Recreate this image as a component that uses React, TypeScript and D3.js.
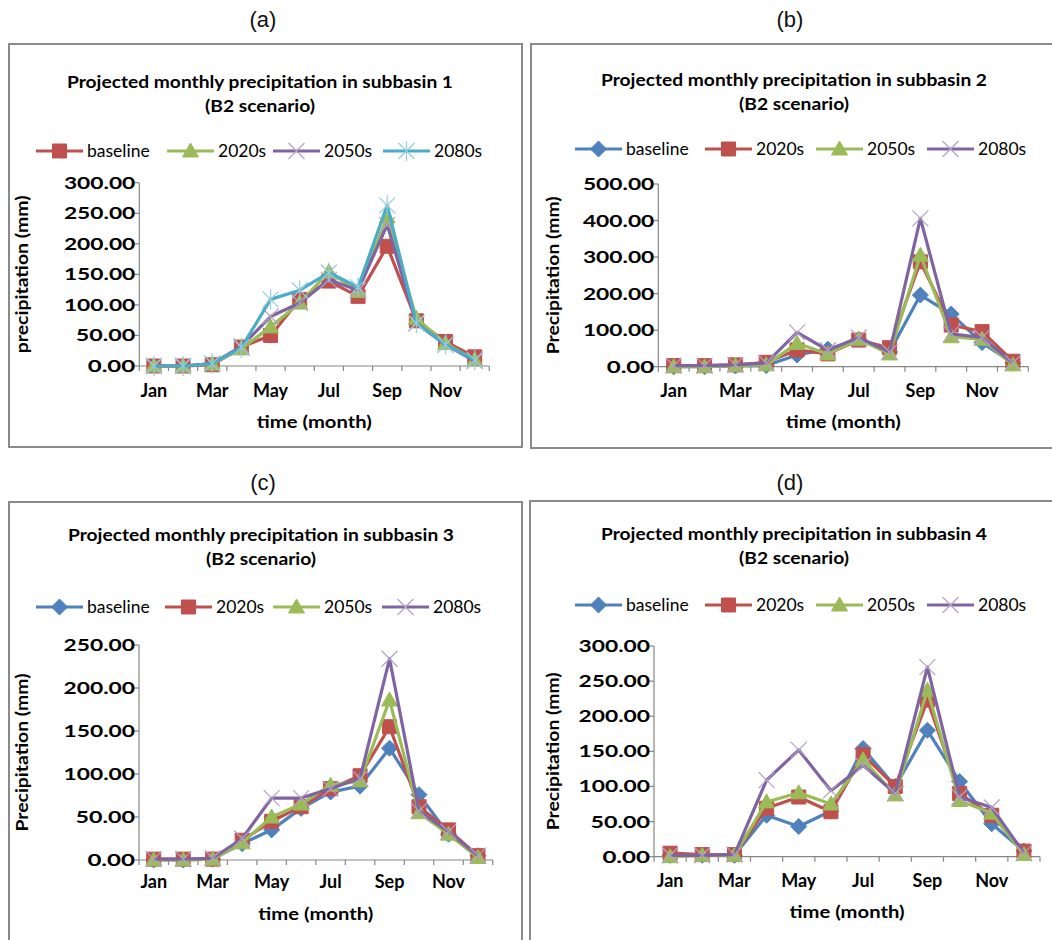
import React from 'react';
import * as d3 from 'd3';

const months = ['Jan', 'Feb', 'Mar', 'Apr', 'May', 'Jun', 'Jul', 'Aug', 'Sep', 'Oct', 'Nov', 'Dec'];
const shownMonths = ['Jan', 'Mar', 'May', 'Jul', 'Sep', 'Nov'];
const seriesNames = ['baseline', '2020s', '2050s', '2080s'];

// Subbasin 1
const s1_baseline = [0, 0, 2, 31, 50, 109, 139, 114, 196, 74, 40, 15];
const s1_2020s = [0, 0, 3, 28, 64, 103, 154, 122, 244, 78, 37, 10];
const s1_2050s = [0, 0, 4, 32, 81, 103, 141, 124, 231, 70, 35, 8];
const s1_2080s = [0, 0, 4, 30, 109, 124, 153, 129, 263, 70, 35, 10];

// Subbasin 2
const s2_baseline = [0, 0, 2, 3, 32, 48, 75, 40, 196, 144, 66, 10];
const s2_2020s = [3, 3, 5, 12, 46, 35, 73, 52, 287, 114, 96, 15];
const s2_2050s = [0, 0, 3, 5, 64, 35, 75, 35, 305, 82, 75, 5];
const s2_2080s = [3, 3, 5, 10, 94, 45, 80, 40, 406, 90, 80, 10];

// Subbasin 3
const s3_baseline = [0, 0, 1, 19, 35, 60, 79, 86, 130, 76, 30, 5];
const s3_2020s = [1, 1, 1, 23, 45, 62, 83, 98, 155, 62, 35, 5];
const s3_2050s = [0, 0, 1, 20, 50, 65, 87, 92, 186, 55, 30, 3];
const s3_2080s = [1, 1, 2, 25, 72, 72, 83, 95, 234, 57, 33, 5];

// Subbasin 4
const s4_baseline = [2, 2, 2, 59, 43, 65, 154, 100, 180, 107, 47, 8];
const s4_2020s = [5, 3, 3, 69, 85, 64, 145, 100, 223, 90, 59, 8];
const s4_2050s = [0, 2, 2, 78, 91, 75, 138, 88, 237, 80, 62, 3];
const s4_2080s = [2, 2, 3, 109, 152, 94, 130, 90, 270, 85, 70, 5];

const yTicks1 = [0, 50, 100, 150, 200, 250, 300];
const yTicks2 = [0, 100, 200, 300, 400, 500];
const yTicks3 = [0, 50, 100, 150, 200, 250];
const yTicks4 = [0, 50, 100, 150, 200, 250, 300];

type Style = { color: string; marker: string; mColor: string };
const BLUE: Style = { color: '#4F81BD', marker: 'diamond', mColor: '#4F81BD' };
const RED: Style = { color: '#C0504D', marker: 'square', mColor: '#C0504D' };
const GREEN: Style = { color: '#9BBB59', marker: 'triangle', mColor: '#9BBB59' };
const PURPLE: Style = { color: '#8064A2', marker: 'times', mColor: '#B3A2C7' };
const CYAN: Style = { color: '#4BACC6', marker: 'asterisk', mColor: '#93CDDD' };

const FONT = 'Lato, "Open Sans", sans-serif';

function markerPath(kind: string): string {
  switch (kind) {
    case 'diamond':
      return 'M0,-8L8,0L0,8L-8,0Z';
    case 'square':
      return 'M-7,-7H7V7H-7Z';
    case 'triangle':
      return 'M0,-8L8,6H-8Z';
    case 'times':
      return 'M-8,-8L8,8M8,-8L-8,8';
    case 'asterisk':
      return 'M-8,-8L8,8M8,-8L-8,8M0,-10V10';
    default:
      return d3.symbol(d3.symbolCircle, 64)() || '';
  }
}

function Marker({ kind, color, x, y }: { kind: string; color: string; x: number; y: number }) {
  const stroked = kind === 'times' || kind === 'asterisk';
  return (
    <path
      d={markerPath(kind)}
      transform={`translate(${x},${y})`}
      fill={stroked ? 'none' : color}
      stroke={color}
      strokeWidth={stroked ? 1.2 : 1}
    />
  );
}

type PanelCfg = {
  label: string;
  labelX: number;
  labelY: number;
  box: [number, number, number, number];
  title1: string;
  titleX: number;
  titleY: number;
  legendY: number;
  legendX: number[];
  x0: number;
  x1: number;
  y0: number;
  yTop: number;
  yMax: number;
  ticks: number[];
  yTitle: string;
  yTitleX: number;
  xLabelY: number;
  xTitleY: number;
  series: number[][];
  styles: Style[];
};

function Panel({ cfg }: { cfg: PanelCfg }) {
  const x = d3.scaleBand<string>().domain(months).range([cfg.x0, cfg.x1]).padding(0);
  const y = d3.scaleLinear().domain([0, cfg.yMax]).range([cfg.y0, cfg.yTop]);
  const cx = (m: string) => (x(m) as number) + x.bandwidth() / 2;
  const line = d3
    .line<number>()
    .x((_, i) => cx(months[i]))
    .y((d) => y(d));
  const [bx, by, bw, bh] = cfg.box;
  const axisColor = '#868686';
  const boundaries = d3.range(months.length + 1).map((i) => cfg.x0 + i * x.bandwidth());
  const fmt = d3.format('.2f');
  return (
    <g>
      <text x={cfg.labelX} y={cfg.labelY} fontFamily='"Liberation Sans", Arial, sans-serif' fontSize={22} textAnchor="middle" fill="#111">
        {cfg.label}
      </text>
      <rect x={bx} y={by} width={bw} height={bh} fill="#fff" stroke="#8a8a8a" strokeWidth={2} />
      <text x={cfg.titleX} y={cfg.titleY} fontFamily={FONT} fontWeight="bold" fontSize={17.5} textAnchor="middle" fill="#000" textLength={386} lengthAdjust="spacingAndGlyphs">
        {cfg.title1}
      </text>
      <text x={cfg.titleX} y={cfg.titleY + 24} fontFamily={FONT} fontWeight="bold" fontSize={17.5} textAnchor="middle" fill="#000" textLength={110} lengthAdjust="spacingAndGlyphs">
        (B2 scenario)
      </text>
      {seriesNames.map((name, i) => {
        const lx = cfg.legendX[i];
        const st = cfg.styles[i];
        return (
          <g key={name}>
            <line x1={lx} x2={lx + 47} y1={cfg.legendY} y2={cfg.legendY} stroke={st.color} strokeWidth={3} />
            <Marker kind={st.marker} color={st.mColor} x={lx + 23.5} y={cfg.legendY} />
            <text x={lx + 51} y={cfg.legendY + 6} fontFamily={FONT} fontSize={17.5} fill="#000">
              {name}
            </text>
          </g>
        );
      })}
      {/* axes */}
      <line x1={cfg.x0} x2={cfg.x0} y1={cfg.yTop} y2={cfg.y0} stroke={axisColor} strokeWidth={1.2} />
      <line x1={cfg.x0} x2={cfg.x1} y1={cfg.y0} y2={cfg.y0} stroke={axisColor} strokeWidth={1.2} />
      {cfg.ticks.map((t) => {
        const s = fmt(t);
        return (
          <g key={t}>
            <line x1={cfg.x0 - 5} x2={cfg.x0} y1={y(t)} y2={y(t)} stroke={axisColor} strokeWidth={1.2} />
            <text x={cfg.x0 - 4} y={y(t) + 6} fontFamily={FONT} fontWeight="bold" fontSize={17.5} textAnchor="end" fill="#000" textLength={s.length * 11.9} lengthAdjust="spacingAndGlyphs">
              {s}
            </text>
          </g>
        );
      })}
      {boundaries.map((bxv, i) => (
        <line key={i} x1={bxv} x2={bxv} y1={cfg.y0} y2={cfg.y0 + 5} stroke={axisColor} strokeWidth={1.2} />
      ))}
      {shownMonths.map((m) => (
        <text key={m} x={cx(m)} y={cfg.xLabelY} fontFamily={FONT} fontWeight="bold" fontSize={18} textAnchor="middle" fill="#000">
          {m}
        </text>
      ))}
      <text x={(cfg.x0 + cfg.x1) / 2} y={cfg.xTitleY} fontFamily={FONT} fontWeight="bold" fontSize={17.5} textAnchor="middle" fill="#000" textLength={115} lengthAdjust="spacingAndGlyphs">
        time (month)
      </text>
      <text
        transform={`translate(${cfg.yTitleX},${(cfg.y0 + cfg.yTop) / 2}) rotate(-90)`}
        fontFamily={FONT}
        fontWeight="bold"
        fontSize={17}
        textAnchor="middle"
        fill="#000"
        textLength={158}
        lengthAdjust="spacingAndGlyphs"
      >
        {cfg.yTitle}
      </text>
      {/* series */}
      {cfg.series.map((vals, si) => {
        const st = cfg.styles[si];
        return (
          <g key={si}>
            <path d={line(vals) || ''} fill="none" stroke={st.color} strokeWidth={3.2} strokeLinejoin="round" />
            {vals.map((v, i) => (
              <Marker key={i} kind={st.marker} color={st.mColor} x={cx(months[i])} y={y(v)} />
            ))}
          </g>
        );
      })}
    </g>
  );
}

const panels: PanelCfg[] = [
  {
    label: '(a)', labelX: 263, labelY: 27,
    box: [9, 44, 513, 403],
    title1: 'Projected monthly precipitation in subbasin 1', titleX: 260, titleY: 88,
    legendY: 151, legendX: [36, 167, 273, 383],
    x0: 139.3, x1: 489.3, y0: 366, yTop: 182.7, yMax: 300, ticks: yTicks1,
    yTitle: 'precipitation (mm)', yTitleX: 28, xLabelY: 397, xTitleY: 428,
    series: [s1_baseline, s1_2020s, s1_2050s, s1_2080s],
    styles: [RED, GREEN, PURPLE, CYAN],
  },
  {
    label: '(b)', labelX: 790, labelY: 27,
    box: [531, 44, 540, 404],
    title1: 'Projected monthly precipitation in subbasin 2', titleX: 794, titleY: 86,
    legendY: 149, legendX: [575, 705, 816, 927],
    x0: 658.3, x1: 1028.3, y0: 366.7, yTop: 184, yMax: 500, ticks: yTicks2,
    yTitle: 'Precipitation (mm)', yTitleX: 559, xLabelY: 397, xTitleY: 428,
    series: [s2_baseline, s2_2020s, s2_2050s, s2_2080s],
    styles: [BLUE, RED, GREEN, PURPLE],
  },
  {
    label: '(c)', labelX: 263, labelY: 490,
    box: [9, 502, 513, 460],
    title1: 'Projected monthly precipitation in subbasin 3', titleX: 261, titleY: 541,
    legendY: 607, legendX: [36, 165, 273, 382],
    x0: 139, x1: 492.7, y0: 860, yTop: 645, yMax: 250, ticks: yTicks3,
    yTitle: 'Precipitation (mm)', yTitleX: 28, xLabelY: 888, xTitleY: 920,
    series: [s3_baseline, s3_2020s, s3_2050s, s3_2080s],
    styles: [BLUE, RED, GREEN, PURPLE],
  },
  {
    label: '(d)', labelX: 790, labelY: 490,
    box: [530, 501, 540, 460],
    title1: 'Projected monthly precipitation in subbasin 4', titleX: 794, titleY: 540,
    legendY: 605, legendX: [575, 705, 816, 927],
    x0: 654, x1: 1040, y0: 856.7, yTop: 646, yMax: 300, ticks: yTicks4,
    yTitle: 'Precipitation (mm)', yTitleX: 559, xLabelY: 887, xTitleY: 918,
    series: [s4_baseline, s4_2020s, s4_2050s, s4_2080s],
    styles: [BLUE, RED, GREEN, PURPLE],
  },
];

export default function App() {
  return (
    <svg
      width={1052}
      height={940}
      style={{ position: 'absolute', left: 0, top: 0, background: '#fff' }}
      xmlns="http://www.w3.org/2000/svg"
    >
      <rect width={1052} height={940} fill="#fff" />
      {panels.map((p) => (
        <Panel key={p.label} cfg={p} />
      ))}
    </svg>
  );
}
